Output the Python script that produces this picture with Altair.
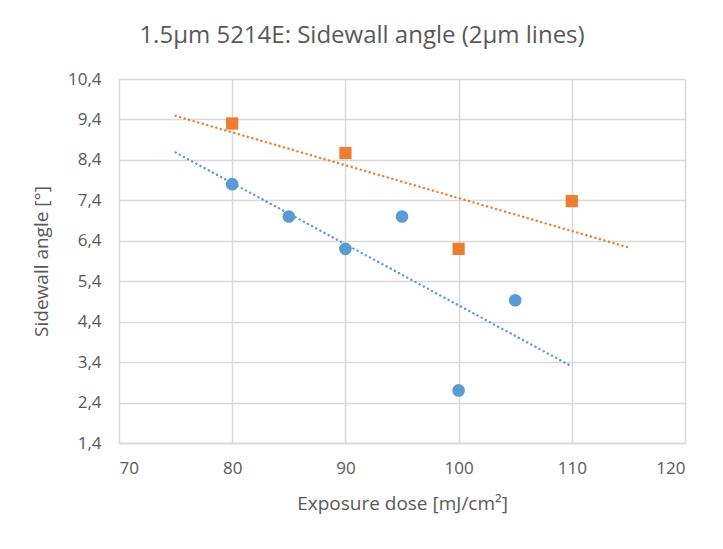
import altair as alt
import pandas as pd

blue_dose = [80, 85, 90, 95, 100, 105]
blue_angle = [7.8, 7.0, 6.2, 7.0, 2.7, 4.93]
orange_dose = [80, 90, 100, 110]
orange_angle = [9.3, 8.57, 6.2, 7.38]
x_ticks = [70, 80, 90, 100, 110, 120]
y_ticks = [1.4, 2.4, 3.4, 4.4, 5.4, 6.4, 7.4, 8.4, 9.4, 10.4]

BLUE = "#5B9BD5"
ORANGE = "#ED7D31"
FONT = "Open Sans"
GRAY = "#595959"

df = pd.DataFrame({
    "dose": blue_dose + orange_dose,
    "angle": blue_angle + orange_angle,
    "series": ["A"] * len(blue_dose) + ["B"] * len(orange_dose),
})

xs = alt.Scale(domain=[70, 120], nice=False, zero=False)
ys = alt.Scale(domain=[1.4, 10.4], nice=False, zero=False)

xenc = alt.X("dose:Q", scale=xs, title="Exposure dose [mJ/cm²]",
             axis=alt.Axis(values=x_ticks, labelFontSize=17, titleFontSize=19,
                           labelPadding=17, titlePadding=18, ticks=False,
                           domainColor="#d9d9d9", domainWidth=1.5,
                           gridColor="#d9d9d9", gridWidth=1.5,
                           labelColor=GRAY, titleColor=GRAY,
                           labelFont=FONT, titleFont=FONT, titleFontWeight="normal"))
yenc = alt.Y("angle:Q", scale=ys, title="Sidewall angle [°]",
             axis=alt.Axis(values=y_ticks, labelFontSize=17, titleFontSize=19,
                           labelPadding=18, titlePadding=16, ticks=False,
                           domain=False,
                           gridColor="#d9d9d9", gridWidth=1.5,
                           labelColor=GRAY, titleColor=GRAY,
                           labelExpr="replace(format(datum.value, '.1f'), '.', ',')",
                           labelFont=FONT, titleFont=FONT, titleFontWeight="normal"))

base = alt.Chart(df)

trend_blue = base.transform_filter("datum.series == 'A'").transform_regression(
    "dose", "angle", extent=[75, 110]
).mark_line(color=BLUE, strokeWidth=2.4, strokeDash=[0.1, 4.6], strokeCap="round").encode(x=xenc, y=yenc)

trend_orange = base.transform_filter("datum.series == 'B'").transform_regression(
    "dose", "angle", extent=[75, 115]
).mark_line(color=ORANGE, strokeWidth=2.4, strokeDash=[0.1, 4.6], strokeCap="round").encode(x=xenc, y=yenc)

pts_blue = base.transform_filter("datum.series == 'A'").mark_point(
    shape="circle", filled=True, size=160, color=BLUE, opacity=1
).encode(x=xenc, y=yenc)

pts_orange = base.transform_filter("datum.series == 'B'").mark_point(
    shape="square", filled=True, size=150, color=ORANGE, opacity=1
).encode(x=xenc, y=yenc)

chart = alt.layer(trend_blue, trend_orange, pts_blue, pts_orange).properties(
    width=566, height=364,
    title=alt.TitleParams("1.5µm 5214E: Sidewall angle (2µm lines)", fontSize=24,
                          font=FONT, fontWeight="normal", color=GRAY,
                          anchor="middle", offset=22, dx=-40),
    autosize=alt.AutoSizeParams(type="none"),
    padding={"left": 111, "top": 71, "right": 30, "bottom": 90},
).configure_view(stroke=None).configure(background="white")

chart.save("out.html", embed_options={"renderer": "svg", "actions": False})
